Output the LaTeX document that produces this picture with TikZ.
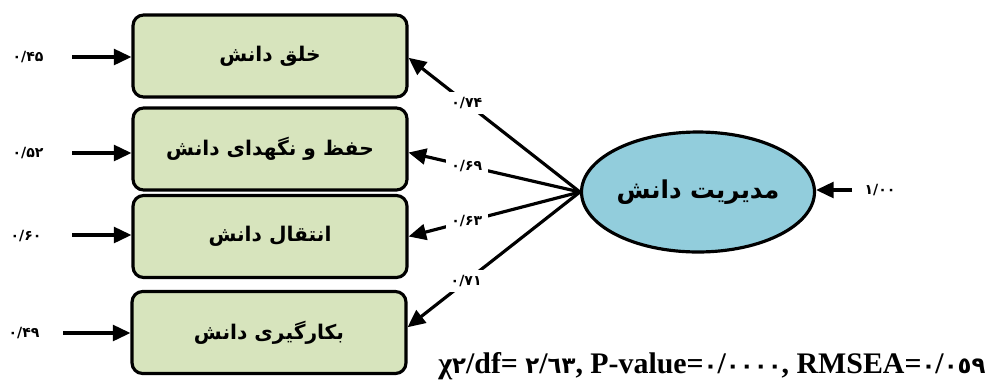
\documentclass[tikz,border=0pt]{standalone}
\usepackage{fontspec}
\setmainfont{Liberation Serif}
\newfontfamily\arabicfont[Script=Arabic]{DejaVu Sans}
\TeXXeTstate=1
\usetikzlibrary{arrows.meta,shapes.geometric}
\definecolor{boxgreen}{RGB}{215,228,189}
\definecolor{ellblue}{RGB}{146,205,220}
\newcommand{\fitdig}[1]{{\arabicfont\bfseries\fontsize{13}{15}\selectfont #1}}
\begin{document}
\begin{tikzpicture}[x=0.02cm,y=-0.02cm,
  ind/.style={draw=black, line width=1.8pt, rounded corners=6pt, fill=boxgreen,
    minimum width=5.48cm, minimum height=1.64cm, inner sep=0pt,
    font=\arabicfont\bfseries\fontsize{11.5}{14}\selectfont},
  lat/.style={ellipse, draw=black, line width=1.8pt, fill=ellblue,
    minimum width=4.66cm, minimum height=2.4cm, inner sep=0pt,
    font=\arabicfont\bfseries\fontsize{14}{16}\selectfont},
  arr/.style={line width=1.8pt, -{Triangle[length=10pt,width=9pt]}},
  err/.style={inner sep=1pt, font=\arabicfont\bfseries\fontsize{8}{9}\selectfont},
  load/.style={fill=white, inner sep=3pt, font=\arabicfont\bfseries\fontsize{8}{9}\selectfont}
]
\useasboundingbox (0,0) rectangle (993,383);
% indicator boxes
\node[ind] (b1) at (270,56) {\beginR خلق دانش\endR};
\node[ind] (b2) at (270,149) {\beginR حفظ و نگهدای دانش\endR};
\node[ind] (b3) at (270,236.5) {\beginR انتقال دانش\endR};
\node[ind] (b4) at (269,332.5) {\beginR بکارگیری دانش\endR};
% latent
\node[lat] (m) at (698,192) {\beginR مدیریت دانش\endR};
% error arrows
\coordinate (e1) at (72,57);
\coordinate (e2) at (72,153);
\coordinate (e3) at (72,235);
\coordinate (e4) at (63,333);
\node[err] (l1) at (28,57) {۰/۴۵};
\node[err] (l2) at (28,153) {۰/۵۲};
\node[err] (l3) at (26,236) {۰/۶۰};
\node[err] (l4) at (24,333) {۰/۴۹};
\draw[arr] (e1) -- (e1 -| b1.west);
\draw[arr] (e2) -- (e2 -| b2.west);
\draw[arr] (e3) -- (e3 -| b3.west);
\draw[arr] (e4) -- (e4 -| b4.west);
% latent error
\coordinate (er) at (852,190);
\node[err] (lr) at (880,190) {۱/۰۰};
\draw[arr] (er) -- (er -| m.east);
% loadings
\draw[arr] (m.west) -- node[load, pos=0.66] {۰/۷۴} ([yshift=-1pt]b1.east);
\draw[arr] (m.west) -- node[load, pos=0.66] {۰/۶۹} ([yshift=-2pt]b2.east);
\draw[arr] (m.west) -- node[load, pos=0.66] {۰/۶۳} (b3.east);
\draw[arr] (m.west) -- node[load, pos=0.66] {۰/۷۱} ([yshift=3pt]b4.east);
% fit indices
\node[anchor=west, inner sep=0pt, font=\bfseries\fontsize{17}{19}\selectfont] (fit) at (438,366)
  {χ\fitdig{٢}/df= \fitdig{٢}/\fitdig{٦٣}, P-value=\fitdig{٠}/\fitdig{٠٠٠٠}, RMSEA=\fitdig{٠}/\fitdig{٠٥٩}};
\end{tikzpicture}
\end{document}
